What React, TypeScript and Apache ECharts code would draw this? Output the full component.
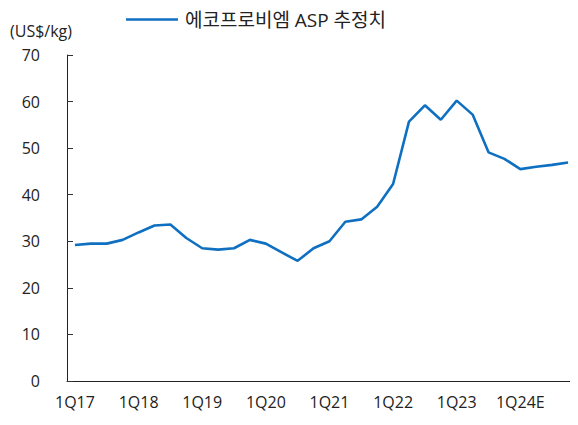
import React, { useEffect, useRef } from "react";
import * as echarts from "echarts";

const years = ["17", "18", "19", "20", "21", "22", "23", "24"];
const categories: string[] = [];
years.forEach((y) => {
  for (let q = 1; q <= 4; q++) categories.push(`${q}Q${y}${y === "24" ? "E" : ""}`);
});
const seriesName = "에코프로비엠 ASP 추정치";
const aspValues = [
  29.2, 29.5, 29.5, 30.3, 31.9, 33.4, 33.6, 30.7,
  28.5, 28.2, 28.5, 30.3, 29.5, 27.6, 25.8, 28.5,
  30.0, 34.2, 34.7, 37.4, 42.3, 55.7, 59.2, 56.1,
  60.2, 57.2, 49.1, 47.7, 45.5, 46.0, 46.4, 46.9,
];
const unitLabel = "(US$/kg)";

const FONT = "'Open Sans', 'Noto Sans CJK KR', sans-serif";

export default function App() {
  const ref = useRef<HTMLDivElement>(null);
  useEffect(() => {
    if (!ref.current) return;
    const chart = echarts.init(ref.current, undefined, { renderer: "svg" });
    chart.setOption({
      animation: false,
      textStyle: { fontFamily: FONT },
      grid: { left: 67, right: 2, top: 55, bottom: 44, containLabel: false },
      legend: {
        left: 121,
        top: 5,
        itemWidth: 52,
        itemHeight: 14,
        itemGap: 10,
        textStyle: { fontSize: 19, color: "#222", fontFamily: FONT, padding: [0, 0, 0, 2] },
        data: [{ name: seriesName, icon: "path://M0,6 L52,6 L52,8.5 L0,8.5 Z" }],
      },
      graphic: [
        {
          type: "text",
          left: 10,
          top: 23,
          style: { text: unitLabel, fontSize: 16, fill: "#222", fontFamily: FONT },
        },
      ],
      xAxis: {
        type: "category",
        data: categories,
        boundaryGap: true,
        axisLine: { lineStyle: { color: "#222", width: 1 } },
        axisTick: { inside: true, length: 5, interval: 1, lineStyle: { color: "#333" } },
        axisLabel: {
          interval: 3,
          fontSize: 16,
          color: "#222",
          margin: 13,
          fontFamily: FONT,
        },
        splitLine: { show: false },
      },
      yAxis: {
        type: "value",
        min: 0,
        max: 70,
        interval: 10,
        axisLine: { show: true, lineStyle: { color: "#222", width: 1 } },
        axisTick: { show: true, inside: true, length: 6, lineStyle: { color: "#333" } },
        axisLabel: { fontSize: 16, color: "#222", margin: 27, fontFamily: FONT },
        splitLine: { show: false },
      },
      series: [
        {
          name: seriesName,
          type: "line",
          data: aspValues,
          symbol: "none",
          lineStyle: { color: "#0F70C2", width: 2.6 },
          itemStyle: { color: "#0F70C2" },
        },
      ],
    });
    return () => chart.dispose();
  }, []);
  return <div ref={ref} style={{ width: 578, height: 425, margin: -8 }} />;
}
